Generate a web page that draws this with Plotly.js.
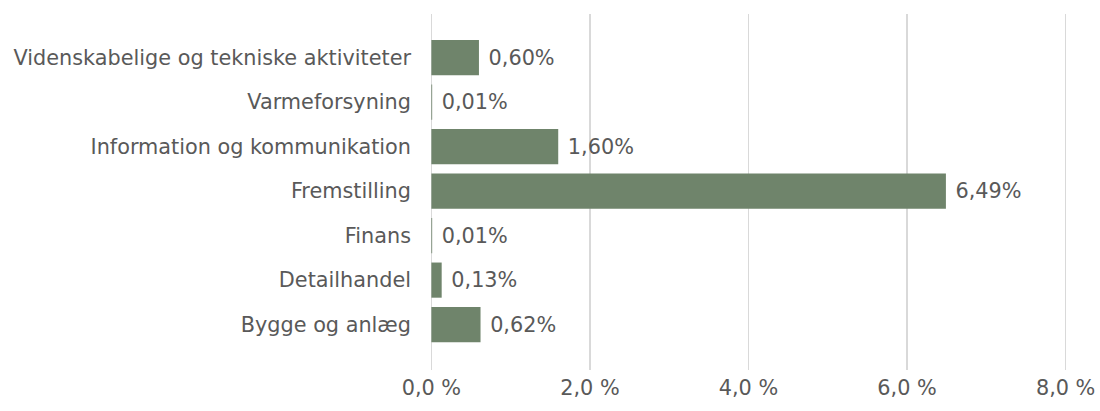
<!DOCTYPE html>
<html>
<head>
<meta charset="utf-8">
<script src="https://cdn.plot.ly/plotly-3.0.1.min.js"></script>
<style>html,body{margin:0;padding:0;background:#fff;}#chart{width:1100px;height:411px;}</style>
</head>
<body>
<div id="chart"></div>
<script>
const categories = ["Bygge og anlæg", "Detailhandel", "Finans", "Fremstilling", "Information og kommunikation", "Varmeforsyning", "Videnskabelige og tekniske aktiviteter"];
const values = [0.62, 0.13, 0.01, 6.49, 1.60, 0.01, 0.60];
const valueLabels = ["0,62%", "0,13%", "0,01%", "6,49%", "1,60%", "0,01%", "0,60%"];
const xTickVals = [0, 2, 4, 6, 8];
const xTickText = ["0,0 %", "2,0 %", "4,0 %", "6,0 %", "8,0 %"];

const font = {family: "'DejaVu Sans', sans-serif", size: 20.8, color: "#595959"};

Plotly.newPlot("chart", [{
  type: "bar",
  orientation: "h",
  y: categories.map((c, i) => i),
  x: values,
  text: valueLabels.map(t => " " + t),
  textposition: "outside",
  cliponaxis: false,
  textfont: font,
  marker: {color: "#6f846b"},
  hoverinfo: "skip"
}], {
  width: 1100, height: 411,
  margin: {l: 429.1, r: 31.6, t: 14, b: 41, pad: 0},
  paper_bgcolor: "#fff", plot_bgcolor: "#fff",
  bargap: 0.21,
  showlegend: false,
  font: font,
  xaxis: {
    range: [-0.03, 8.03],
    tickvals: xTickVals, ticktext: xTickText,
    showgrid: true, gridcolor: "#d9d9d9", gridwidth: 1.3,
    zeroline: false, showline: false, ticks: "",
    ticklabelstandoff: 3,
    fixedrange: true
  },
  yaxis: {
    range: [-1.02, 6.98],
    tickvals: categories.map((c, i) => i), ticktext: categories,
    showgrid: false, zeroline: false, showline: false, ticks: "",
    ticklabelstandoff: 17,
    fixedrange: true
  }
}, {displayModeBar: false, staticPlot: true});
</script>
</body>
</html>
